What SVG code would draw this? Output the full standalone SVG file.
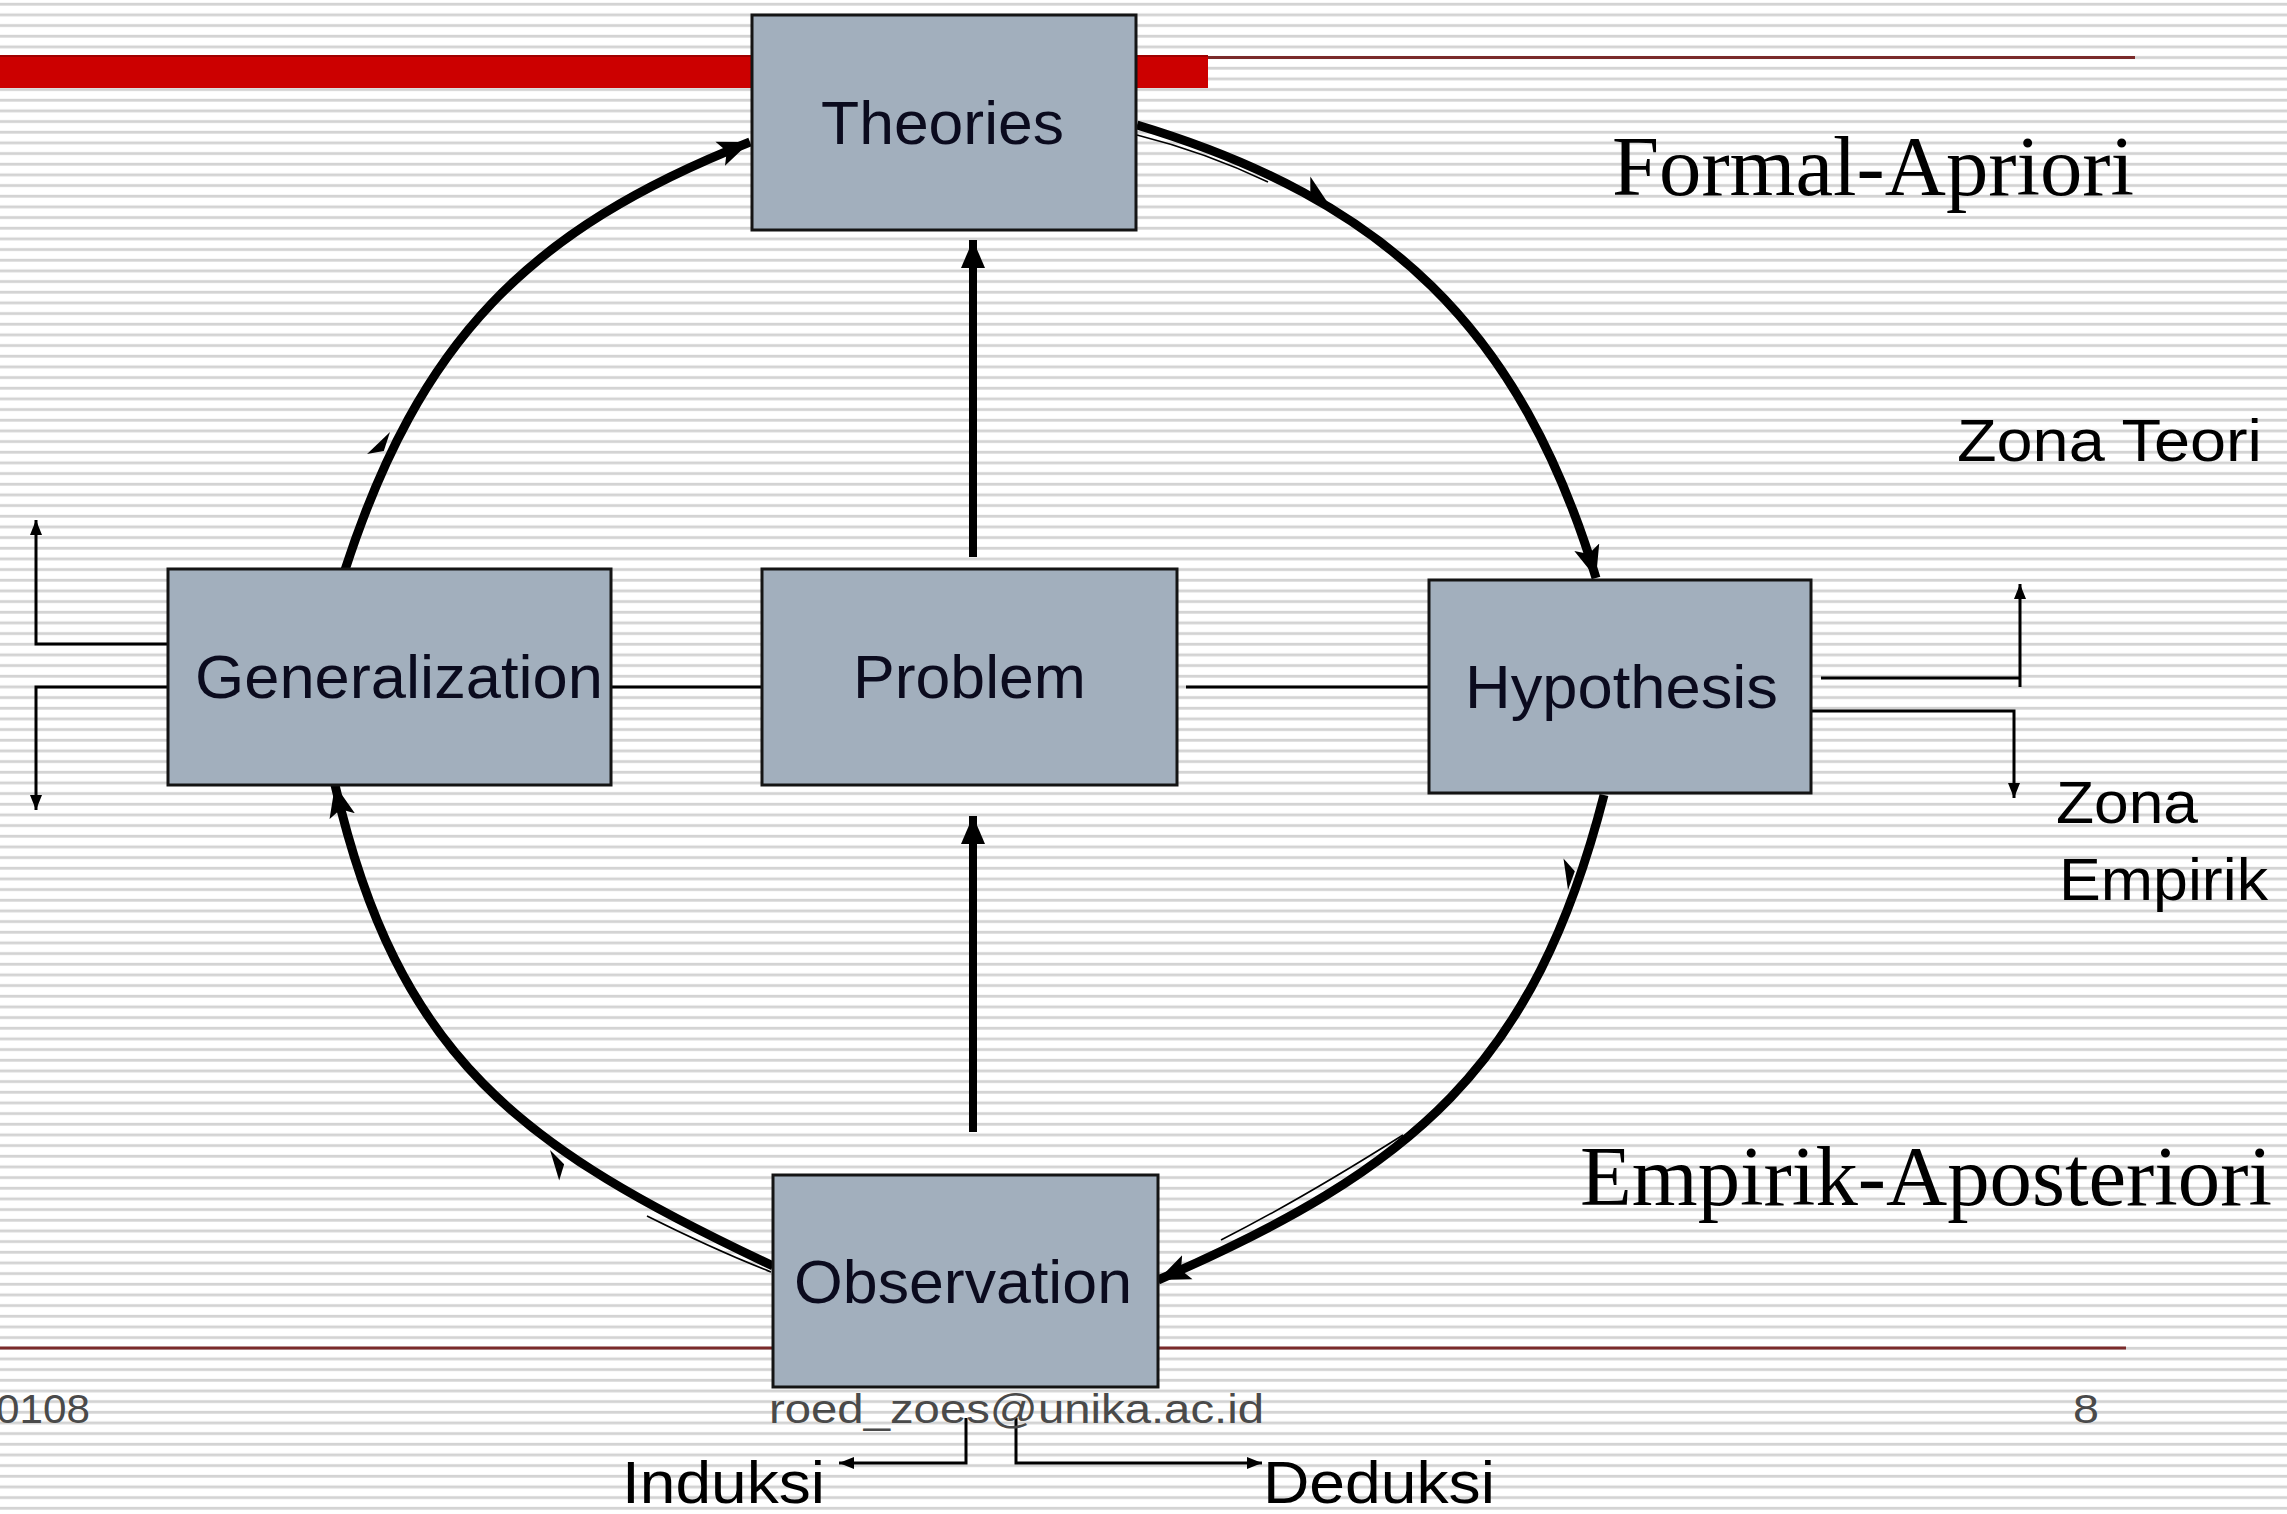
<svg xmlns="http://www.w3.org/2000/svg" width="2287" height="1514" viewBox="0 0 2287 1514">
<style>
.box{fill:#a2afbd;stroke:#141414;stroke-width:3}
.lbl{font-family:"Liberation Sans",Arial,sans-serif;font-size:61px;fill:#0b0b1e}
.arc{fill:none;stroke:#000;stroke-width:9}
.thick{fill:none;stroke:#000;stroke-width:8}
.thin{fill:none;stroke:#000;stroke-width:3}
.ghost{fill:none;stroke:#000;stroke-width:1.6}
.serif{font-family:"Liberation Serif","Times New Roman",serif;font-size:85px;fill:#000}
.side{font-family:"Liberation Sans",Arial,sans-serif;font-size:60px;fill:#000}
.foot{font-family:"Liberation Sans",Arial,sans-serif;font-size:41px;fill:#4a4a4a}
.barb{fill:#000}
</style>
<defs>
<pattern id="stripes" width="16" height="10.667" patternUnits="userSpaceOnUse">
<rect width="16" height="10.667" fill="#ffffff"/>
<rect y="2.8" width="16" height="2.8" fill="#d3d3d3"/>
</pattern>
<marker id="bigArrow" markerUnits="userSpaceOnUse" markerWidth="36" markerHeight="30" refX="32" refY="15" orient="auto" viewBox="0 0 36 30"><path d="M0,2 L32,15 L0,28 L7,15 Z" fill="#000"/></marker>
<marker id="vArrow" markerUnits="userSpaceOnUse" markerWidth="30" markerHeight="26" refX="28" refY="13" orient="auto" viewBox="0 0 30 26"><path d="M0,1 L28,13 L0,25 Z" fill="#000"/></marker>
<marker id="thinArrow" markerUnits="userSpaceOnUse" markerWidth="16" markerHeight="14" refX="15" refY="7" orient="auto" viewBox="0 0 16 14"><path d="M0,1 L15,7 L0,13 Z" fill="#000"/></marker>
</defs>

<rect width="2287" height="1514" fill="url(#stripes)"/>

<g id="decoration">
<rect x="0" y="55" width="1208" height="33" fill="#cc0000"/>
<line x1="0" y1="56" x2="1208" y2="56" stroke="#a00000" stroke-width="2"/>
<line x1="1208" y1="57.5" x2="2135" y2="57.5" stroke="#7a2a2a" stroke-width="3"/>
<line x1="0" y1="1348" x2="2126" y2="1348" stroke="#7a2a2a" stroke-width="3"/>
</g>

<g id="connectors">
<path class="arc" d="M345,570 C419,342 527,230 750,142" marker-end="url(#bigArrow)"/>
<path class="arc" d="M1137,125 C1386,200 1521,329 1596,578" marker-end="url(#bigArrow)"/>
<path class="arc" d="M1604,795 C1534,1067 1413,1169 1158,1280" marker-end="url(#bigArrow)"/>
<path class="arc" d="M773,1266 C520,1147 398,1058 335,785" marker-end="url(#bigArrow)"/>
<path class="ghost" d="M1137,135 Q1205,152 1268,182"/>
<path class="ghost" d="M1403,1135 Q1300,1200 1221,1240"/>
<path class="ghost" d="M647,1216 Q715,1250 771,1272"/>
<path class="barb" d="M0,0 L-28,-15 L-20,0 Z" transform="translate(390,432) rotate(-72)"/>
<path class="barb" d="M0,0 L-28,-15 L-20,0 Z" transform="translate(1328,203) rotate(28)"/>
<path class="barb" d="M0,0 L-28,15 L-20,0 Z" transform="translate(1568,890) rotate(110)"/>
<path class="barb" d="M0,0 L-28,-15 L-20,0 Z" transform="translate(550,1150) rotate(-135)"/>
<line class="thick" x1="973" y1="557" x2="973" y2="240" marker-end="url(#vArrow)"/>
<line class="thick" x1="973" y1="1132" x2="973" y2="816" marker-end="url(#vArrow)"/>
<line class="thin" x1="611" y1="687" x2="762" y2="687"/>
<line class="thin" x1="1186" y1="687" x2="1429" y2="687"/>
<path class="thin" d="M168,644 H36 V520" marker-end="url(#thinArrow)"/>
<path class="thin" d="M168,687 H36 V810" marker-end="url(#thinArrow)"/>
<path class="thin" d="M1821,678 H2020 M2020,687 V584" marker-end="url(#thinArrow)"/>
<path class="thin" d="M1811,711 H2014 V798" marker-end="url(#thinArrow)"/>
<path class="thin" d="M966,1418 V1463 H839" marker-end="url(#thinArrow)"/>
<path class="thin" d="M1016,1418 V1463 H1262" marker-end="url(#thinArrow)"/>
</g>

<g id="theories">
<rect class="box" x="752" y="15" width="384" height="215"/>
<text class="lbl" x="821" y="144" textLength="243" lengthAdjust="spacingAndGlyphs">Theories</text>
</g>
<g id="generalization">
<rect class="box" x="168" y="569" width="443" height="216"/>
<text class="lbl" x="195" y="698" textLength="408" lengthAdjust="spacingAndGlyphs">Generalization</text>
</g>
<g id="problem">
<rect class="box" x="762" y="569" width="415" height="216"/>
<text class="lbl" x="853" y="698" textLength="233" lengthAdjust="spacingAndGlyphs">Problem</text>
</g>
<g id="hypothesis">
<rect class="box" x="1429" y="580" width="382" height="213"/>
<text class="lbl" x="1465" y="708" textLength="313" lengthAdjust="spacingAndGlyphs">Hypothesis</text>
</g>
<g id="observation">
<rect class="box" x="773" y="1175" width="385" height="212"/>
<text class="lbl" x="794" y="1303" textLength="338" lengthAdjust="spacingAndGlyphs">Observation</text>
</g>

<g id="labels">
<text class="serif" x="1612" y="195" textLength="522" lengthAdjust="spacingAndGlyphs">Formal-Apriori</text>
<text class="serif" x="1580" y="1205" textLength="692" lengthAdjust="spacingAndGlyphs">Empirik-Aposteriori</text>
<text class="side" x="1957" y="461" font-size="62" textLength="305" lengthAdjust="spacingAndGlyphs">Zona Teori</text>
<text class="side" x="2056" y="823" textLength="142" lengthAdjust="spacingAndGlyphs">Zona</text>
<text class="side" x="2059" y="900" textLength="209" lengthAdjust="spacingAndGlyphs">Empirik</text>
<text class="side" x="622" y="1503" font-size="55" textLength="203" lengthAdjust="spacingAndGlyphs">Induksi</text>
<text class="side" x="1263" y="1503" font-size="55" textLength="232" lengthAdjust="spacingAndGlyphs">Deduksi</text>
<text class="foot" x="-4" y="1423" textLength="94" lengthAdjust="spacingAndGlyphs">0108</text>
<text class="foot" x="769" y="1423" textLength="495" lengthAdjust="spacingAndGlyphs">roed_zoes@unika.ac.id</text>
<text class="foot" x="2073" y="1423" textLength="26" lengthAdjust="spacingAndGlyphs">8</text>
</g>
</svg>
